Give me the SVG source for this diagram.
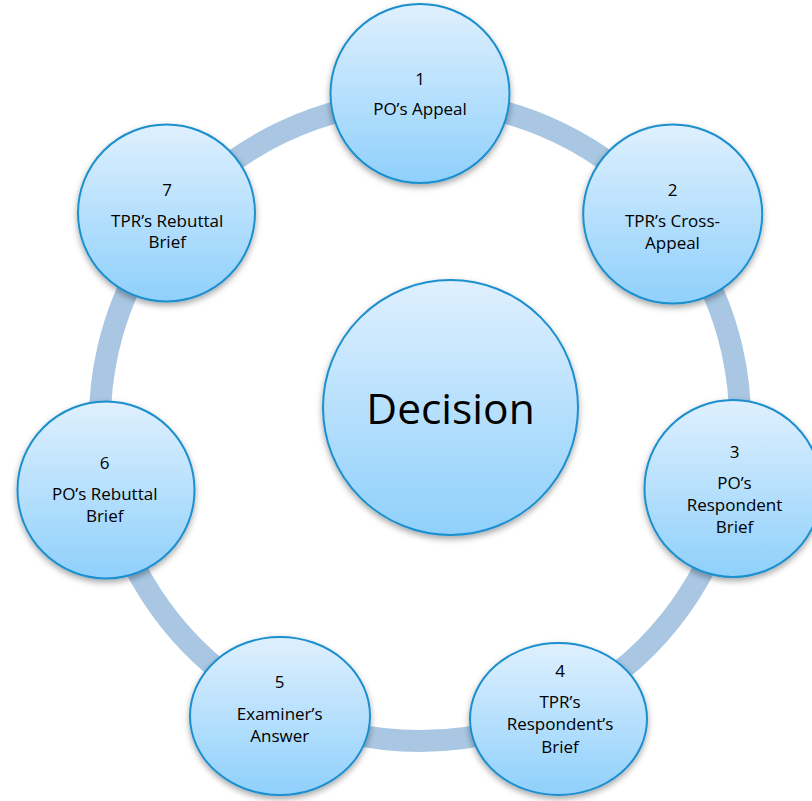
<svg xmlns="http://www.w3.org/2000/svg" width="812" height="801" viewBox="0 0 812 801">
<defs>
<linearGradient id="fillG" x1="0" y1="0" x2="0" y2="1">
<stop offset="0" stop-color="#dff0fe"/>
<stop offset="1" stop-color="#8fd0fb"/>
</linearGradient>
<filter id="sh" x="-20%" y="-20%" width="140%" height="140%">
<feDropShadow dx="0" dy="3" stdDeviation="3" flood-color="#000" flood-opacity="0.35"/>
</filter>
</defs>
<style>
.ring{fill:none;stroke:#a9c7e3;stroke-width:22}
.node{fill:url(#fillG);stroke:#1c8fcf;stroke-width:2;filter:url(#sh)}
.t{font-family:"Open Sans","Noto Sans",sans-serif;font-size:17px;fill:#000;text-anchor:middle}
.big{font-family:"Open Sans","Noto Sans",sans-serif;font-size:42.5px;fill:#000;text-anchor:middle}
</style>
<rect width="812" height="801" fill="#fff"/>
<g id="connectors">
<path class="ring" d="M420 101 A320 320 0 0 1 670.2 221.5"/>
<path class="ring" d="M670.2 221.5 A320 320 0 0 1 732 492.2"/>
<path class="ring" d="M732 492.2 A320 320 0 0 1 558.8 709.3"/>
<path class="ring" d="M558.8 709.3 A320 320 0 0 1 281.2 709.3"/>
<path class="ring" d="M281.2 709.3 A320 320 0 0 1 108 492.2"/>
<path class="ring" d="M108 492.2 A320 320 0 0 1 169.8 221.5"/>
<path class="ring" d="M169.8 221.5 A320 320 0 0 1 420 101"/>
</g>
<g id="decision">
<circle class="node" cx="450.5" cy="407.5" r="127.5"/>
<text class="big" x="450.5" y="424">Decision</text>
</g>
<g id="node1">
<circle class="node" cx="420" cy="93.5" r="89.5"/>
<text class="t" x="420" y="85">1</text>
<text class="t" x="420" y="115">PO’s Appeal</text>
</g>
<g id="node2">
<circle class="node" cx="672.7" cy="214" r="89.5"/>
<text class="t" x="672.5" y="196">2</text>
<text class="t" x="672.5" y="226.7">TPR’s Cross-</text>
<text class="t" x="672.5" y="249">Appeal</text>
</g>
<g id="node3">
<circle class="node" cx="733" cy="488.5" r="88.5"/>
<text class="t" x="734.5" y="458.3">3</text>
<text class="t" x="734.5" y="489.3">PO’s</text>
<text class="t" x="734.5" y="510.7">Respondent</text>
<text class="t" x="734.5" y="533.3">Brief</text>
</g>
<g id="node4">
<ellipse class="node" cx="558.5" cy="719" rx="88.5" ry="76"/>
<text class="t" x="560" y="677.3">4</text>
<text class="t" x="560" y="707.7">TPR’s</text>
<text class="t" x="560" y="730">Respondent’s</text>
<text class="t" x="560" y="753.3">Brief</text>
</g>
<g id="node5">
<ellipse class="node" cx="280" cy="716" rx="90" ry="79"/>
<text class="t" x="279.7" y="688.3">5</text>
<text class="t" x="279.7" y="720">Examiner’s</text>
<text class="t" x="279.7" y="741.7">Answer</text>
</g>
<g id="node6">
<circle class="node" cx="106" cy="490" r="88.5"/>
<text class="t" x="104.7" y="469.3">6</text>
<text class="t" x="104.7" y="500">PO’s Rebuttal</text>
<text class="t" x="104.7" y="521.7">Brief</text>
</g>
<g id="node7">
<circle class="node" cx="166.5" cy="213" r="88.5"/>
<text class="t" x="167.2" y="196">7</text>
<text class="t" x="167.2" y="226.7">TPR’s Rebuttal</text>
<text class="t" x="167.2" y="248.3">Brief</text>
</g>
</svg>
